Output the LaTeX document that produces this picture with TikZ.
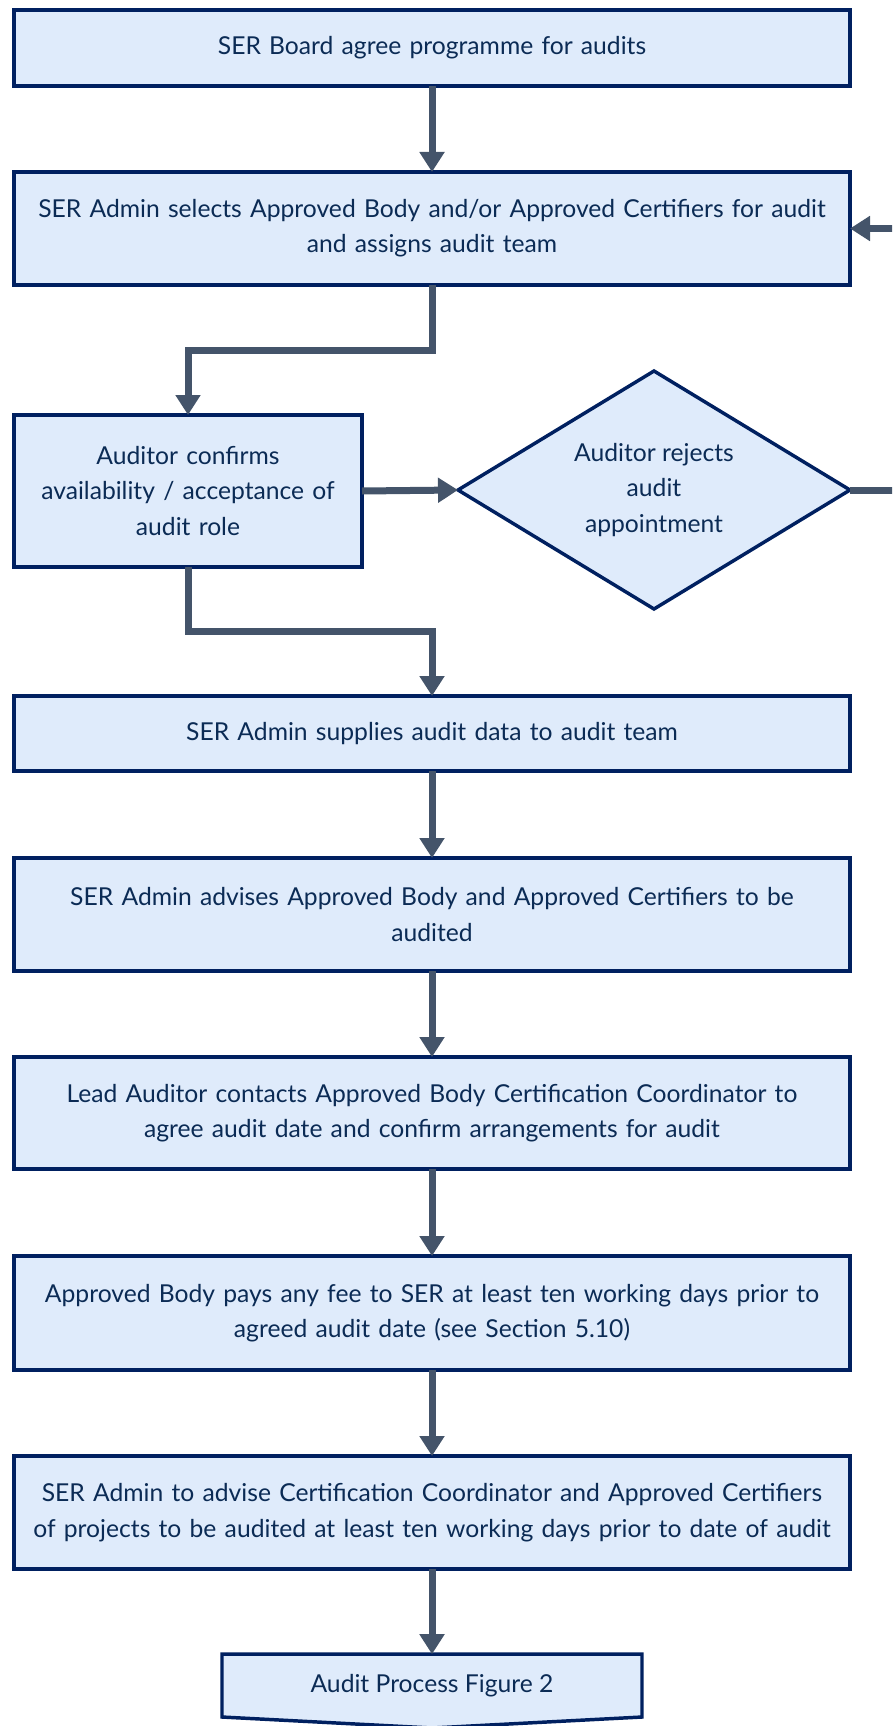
\documentclass[tikz,border=0pt]{standalone}
\usepackage{fontspec}
\setmainfont{Lato}
\usetikzlibrary{shapes.geometric,arrows.meta}

\definecolor{boxline}{HTML}{002060}
\definecolor{boxfill}{HTML}{DFEBFB}
\definecolor{boxtext}{HTML}{0B2B55}
\definecolor{flowline}{HTML}{44546A}

\tikzset{
  stepbox/.style={draw=boxline, fill=boxfill, line width=2.6pt, text=boxtext,
    align=center, inner sep=0pt, outer sep=0pt, font=\fontsize{18.5}{26.5}\selectfont},
  widebox/.style={stepbox, minimum width=627pt, text width=610pt},
  flow/.style={draw=flowline, line width=5.25pt,
    -{Triangle[length=15pt,width=18pt]}}
}

\begin{document}
\begin{tikzpicture}[x=0.75pt,y=-0.75pt]
    \useasboundingbox (0,0) rectangle (892,1726);
    \clip (0,0) rectangle (892,1726);

    \node[widebox, minimum height=57pt] (board) at (432,48)
      {SER Board agree programme for audits};
    \node[widebox, minimum height=84.75pt] (select) at (432,228.5)
      {SER Admin selects Approved Body and/or Approved Certifiers for audit\\ and assigns audit team};
    \node[stepbox, minimum width=261pt, minimum height=114pt, text width=250pt] (confirm) at (188,491)
      {Auditor confirms\\ availability / acceptance of\\ audit role};
    \node[stepbox, diamond, minimum width=294pt, minimum height=178.5pt, shape aspect=1.65] (reject) at (654,490)
      {Auditor rejects\\ audit\\ appointment};
    \node[widebox, minimum height=56.25pt] (supply) at (432,733.5)
      {SER Admin supplies audit data to audit team};
    \node[widebox, minimum height=84.75pt] (advise) at (432,914.5)
      {SER Admin advises Approved Body and Approved Certifiers to be\\ audited};
    \node[widebox, minimum height=84pt] (contact) at (432,1113)
      {Lead Auditor contacts Approved Body Certification Coordinator to\\ agree audit date and confirm arrangements for audit};
    \node[widebox, minimum height=85.5pt] (fee) at (432,1313)
      {Approved Body pays any fee to SER at least ten working days prior to\\ agreed audit date (see Section 5.10)};
    \node[widebox, minimum height=84.75pt] (projects) at (432,1512.5)
      {SER Admin to advise Certification Coordinator and Approved Certifiers\\ of projects to be audited at least ten working days prior to date of audit};

    % off-page connector
    \draw[draw=boxline, fill=boxfill, line width=2.6pt]
      (222,1654) -- (642,1654) -- (642,1717) -- (432,1728) -- (222,1717) -- cycle;
    \node[text=boxtext, font=\fontsize{18.5}{26.5}\selectfont, minimum width=315pt,
      minimum height=47pt, inner sep=0pt, outer sep=0pt] (next) at (432,1685.5) {Audit Process Figure 2};

    \draw[flow] (board) -- (select);
    \draw[flow] (select.south) |- (188,350) -- (confirm.north);
    \draw[flow] (confirm.east) -- (reject.west);
    \draw[flow] (reject.east) -- (905,490) |- (select.east);
    \draw[flow] (confirm.south) |- (432,631) -- (supply.north);
    \draw[flow] (supply) -- (advise);
    \draw[flow] (advise) -- (contact);
    \draw[flow] (contact) -- (fee);
    \draw[flow] (fee) -- (projects);
    \draw[flow] (projects.south) -- (next.north);
\end{tikzpicture}
\end{document}
